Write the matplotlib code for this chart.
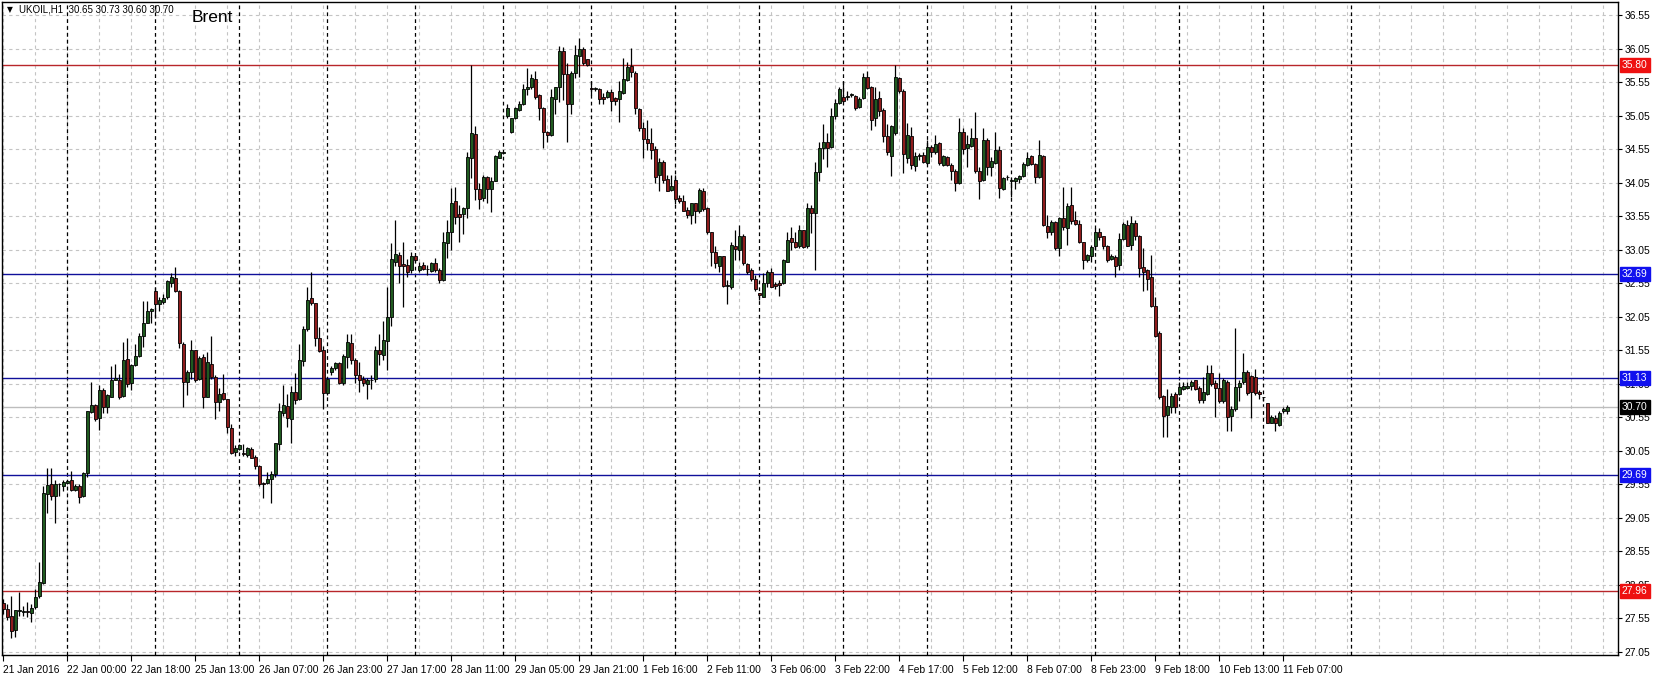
import matplotlib
matplotlib.use("Agg")
import matplotlib.pyplot as plt
from matplotlib.transforms import blended_transform_factory
import numpy as np

symbol = "UKOIL,H1"
title = "Brent"

opens = [
    27.78, 27.69, 27.58, 27.38, 27.66, 27.65, 27.66, 27.63, 27.72, 27.88,
    28.08, 29.41, 29.56, 29.37, 29.55, 29.53, 29.57, 29.62, 29.47, 29.53,
    29.37, 29.72, 30.63, 30.74, 30.54, 30.96, 30.70, 30.86, 31.11, 31.11,
    30.87, 31.42, 31.06, 31.33, 31.46, 31.76, 31.96, 32.14, 32.44, 32.24,
    32.27, 32.34, 32.55, 32.63, 32.44, 31.65, 31.07, 31.22, 31.55, 31.12,
    31.45, 30.86, 31.35, 31.15, 30.78, 30.91, 30.82, 30.39, 30.03, 30.08,
    30.02, 29.99, 30.08, 29.96, 29.83, 29.57, 29.57, 29.63, 29.71, 30.15,
    30.62, 30.72, 30.52, 30.92, 30.82, 31.39, 31.86, 32.33, 32.25, 31.73,
    31.56, 30.91, 31.23, 31.28, 31.36, 31.06, 31.45, 31.66, 31.41, 31.18,
    31.12, 31.05, 31.10, 31.12, 31.56, 31.48, 31.69, 32.05, 32.87, 32.97,
    32.84, 32.82, 32.75, 32.95, 32.74, 32.82, 32.76, 32.73, 32.85, 32.75,
    32.60, 33.15, 33.32, 33.78, 33.58, 33.58, 33.67, 34.42, 34.77, 33.96,
    33.82, 34.13, 33.96, 34.08, 34.42, 34.49, 35.05, 34.81, 35.02, 35.13,
    35.23, 35.44, 35.47, 35.60, 35.35, 35.16, 34.80, 34.76, 35.30, 35.47,
    36.01, 35.67, 35.23, 35.68, 35.94, 36.05, 35.89, 35.46, 35.45, 35.45,
    35.33, 35.33, 35.40, 35.31, 35.30, 35.38, 35.58, 35.79, 35.68, 35.15,
    34.86, 34.70, 34.64, 34.55, 34.16, 34.36, 34.10, 33.94, 34.09, 33.82,
    33.78, 33.64, 33.57, 33.74, 33.63, 33.93, 33.67, 33.31, 33.02, 32.80,
    32.95, 32.51, 32.49, 33.11, 33.05, 33.26, 32.84, 32.74, 32.61, 32.40,
    32.35, 32.55, 32.71, 32.54, 32.56, 32.55, 32.87, 33.22, 33.16, 33.10,
    33.35, 33.10, 33.67, 33.59, 34.21, 34.56, 34.65, 34.58, 35.05, 35.24,
    35.33, 35.33, 35.36, 35.34, 35.18, 35.31, 35.62, 35.47, 35.01, 35.31,
    35.13, 34.75, 34.45, 34.79, 35.61, 35.41, 34.41, 34.75, 34.30, 34.44,
    34.46, 34.35, 34.58, 34.50, 34.64, 34.31, 34.43, 34.31, 34.23, 34.04,
    34.81, 34.56, 34.59, 34.71, 34.22, 34.09, 34.69, 34.29, 34.35, 34.54,
    33.95, 34.13, 34.08, 34.07, 34.10, 34.15, 34.31, 34.44, 34.33, 34.13,
    34.45, 33.41, 33.31, 33.47, 33.07, 33.52, 33.37, 33.72, 33.50, 33.43,
    33.16, 32.90, 32.96, 33.10, 33.32, 33.25, 33.11, 32.91, 32.94, 32.82,
    33.21, 33.42, 33.12, 33.45, 33.26, 32.79, 32.74, 32.64, 32.21, 31.81,
    30.87, 30.59, 30.71, 30.90, 30.90, 30.97, 30.98, 31.02, 31.10, 30.98,
    30.81, 30.90, 31.21, 31.06, 30.98, 30.79, 31.08, 30.57, 30.67, 31.00,
    31.07, 31.23, 31.16, 31.15, 30.92, 30.85, 30.76, 30.47, 30.54, 30.44,
    30.64, 30.65,
]
highs = [
    27.84, 27.76, 27.89, 27.68, 27.94, 27.73, 27.79, 27.77, 27.99, 28.39,
    29.53, 29.80, 29.80, 29.61, 29.57, 29.61, 29.62, 29.75, 29.56, 29.56,
    29.73, 30.65, 31.07, 30.75, 31.03, 30.99, 30.90, 31.32, 31.35, 31.20,
    31.67, 31.74, 31.34, 31.64, 31.81, 32.28, 32.29, 32.18, 32.49, 32.34,
    32.39, 32.60, 32.70, 32.79, 32.45, 31.67, 31.25, 31.70, 31.56, 31.47,
    31.49, 31.52, 31.77, 31.18, 30.98, 31.20, 30.83, 30.45, 30.14, 30.15,
    30.15, 30.10, 30.10, 29.99, 29.84, 29.59, 29.74, 29.75, 30.17, 30.76,
    31.03, 30.90, 31.01, 31.21, 31.65, 31.91, 32.50, 32.72, 32.26, 31.90,
    31.61, 31.15, 31.32, 31.38, 31.37, 31.50, 31.79, 31.79, 31.43, 31.38,
    31.16, 31.13, 31.18, 31.61, 31.79, 31.98, 32.50, 33.15, 33.49, 33.02,
    33.17, 32.91, 33.02, 32.97, 32.86, 32.86, 32.82, 32.86, 32.92, 32.77,
    33.32, 33.49, 33.97, 33.99, 33.72, 33.69, 34.51, 35.81, 34.89, 34.04,
    34.16, 34.15, 34.14, 34.46, 34.54, 34.50, 35.22, 35.02, 35.18, 35.27,
    35.52, 35.76, 35.67, 35.71, 35.37, 35.18, 34.82, 35.45, 35.48, 36.09,
    36.08, 35.83, 35.71, 36.10, 36.20, 36.08, 35.90, 35.56, 35.48, 35.46,
    35.38, 35.43, 35.45, 35.33, 35.57, 35.91, 35.85, 36.06, 35.71, 35.16,
    34.95, 34.98, 34.86, 34.59, 34.41, 34.39, 34.16, 34.16, 34.16, 33.87,
    33.87, 33.69, 33.75, 33.75, 33.97, 33.97, 33.69, 33.32, 33.10, 32.96,
    32.96, 32.60, 33.16, 33.35, 33.42, 33.29, 32.85, 32.77, 32.67, 32.41,
    32.70, 32.74, 32.77, 32.57, 32.60, 32.91, 33.31, 33.39, 33.32, 33.42,
    33.35, 33.74, 33.72, 34.36, 34.66, 34.93, 34.79, 35.17, 35.29, 35.48,
    35.57, 35.41, 35.39, 35.36, 35.33, 35.69, 35.71, 35.49, 35.48, 35.41,
    35.16, 34.93, 34.91, 35.81, 35.63, 35.44, 34.94, 34.88, 34.51, 34.49,
    34.51, 34.69, 34.61, 34.76, 34.65, 34.46, 34.45, 34.34, 34.25, 35.01,
    34.86, 34.76, 34.86, 35.11, 34.29, 34.86, 34.71, 34.43, 34.80, 34.60,
    34.14, 34.17, 34.12, 34.13, 34.17, 34.36, 34.50, 34.46, 34.34, 34.68,
    34.46, 33.57, 33.49, 33.48, 33.54, 33.98, 33.74, 33.98, 33.62, 33.49,
    33.17, 32.98, 33.12, 33.38, 33.38, 33.26, 33.12, 32.99, 32.97, 33.30,
    33.47, 33.49, 33.55, 33.50, 33.27, 33.07, 32.76, 32.97, 32.35, 31.83,
    30.88, 30.97, 30.91, 30.93, 31.08, 31.08, 31.08, 31.11, 31.11, 31.01,
    31.15, 31.33, 31.33, 31.11, 31.21, 31.13, 31.11, 30.72, 31.88, 31.10,
    31.51, 31.26, 31.18, 31.27, 30.95, 30.86, 30.77, 30.59, 30.59, 30.64,
    30.70, 30.73,
]
lows = [
    27.62, 27.52, 27.26, 27.27, 27.59, 27.59, 27.57, 27.49, 27.69, 27.86,
    28.07, 29.12, 29.31, 28.97, 29.37, 29.45, 29.56, 29.45, 29.45, 29.27,
    29.36, 29.66, 30.62, 30.49, 30.36, 30.62, 30.61, 30.85, 31.10, 30.83,
    30.85, 31.00, 30.96, 31.32, 31.45, 31.60, 31.95, 31.96, 32.05, 32.13,
    32.24, 32.32, 32.49, 32.42, 31.59, 30.70, 30.89, 31.12, 31.07, 31.11,
    30.69, 30.85, 31.12, 30.53, 30.65, 30.81, 30.31, 30.01, 29.97, 30.06,
    29.97, 29.96, 29.94, 29.78, 29.53, 29.34, 29.56, 29.27, 29.66, 30.06,
    30.57, 30.41, 30.17, 30.75, 30.81, 31.32, 31.84, 32.23, 31.61, 31.53,
    30.68, 30.88, 31.18, 31.26, 31.05, 31.03, 31.28, 31.35, 31.06, 30.93,
    31.01, 30.82, 30.97, 31.08, 31.33, 31.41, 31.26, 31.91, 32.80, 32.56,
    32.20, 32.64, 32.70, 32.86, 32.72, 32.75, 32.67, 32.71, 32.72, 32.55,
    32.59, 32.93, 33.05, 33.43, 33.16, 33.28, 33.52, 34.12, 33.79, 33.66,
    33.77, 33.74, 33.61, 34.07, 34.41, 34.47, 35.02, 34.79, 35.00, 35.12,
    35.21, 35.36, 35.45, 35.30, 34.99, 34.56, 34.66, 34.75, 35.07, 35.26,
    35.28, 34.66, 35.08, 35.61, 35.63, 35.81, 35.79, 35.36, 35.42, 35.23,
    35.22, 35.31, 35.12, 35.21, 34.95, 35.37, 35.56, 35.62, 35.08, 34.82,
    34.41, 34.54, 34.40, 34.05, 33.92, 34.05, 33.92, 33.93, 33.73, 33.75,
    33.62, 33.52, 33.44, 33.45, 33.60, 33.62, 33.29, 32.80, 32.77, 32.71,
    32.49, 32.24, 32.46, 32.90, 32.89, 32.82, 32.69, 32.59, 32.44, 32.30,
    32.34, 32.50, 32.49, 32.46, 32.36, 32.54, 32.86, 33.05, 33.07, 33.07,
    33.07, 33.07, 33.30, 32.75, 34.08, 34.40, 34.29, 34.56, 35.00, 35.22,
    35.26, 35.28, 35.33, 35.14, 35.17, 35.29, 35.44, 34.84, 34.89, 35.04,
    34.65, 34.46, 34.15, 34.76, 35.38, 34.20, 34.34, 34.26, 34.22, 34.39,
    34.35, 34.33, 34.43, 34.48, 34.31, 34.30, 34.30, 34.09, 33.92, 34.03,
    34.48, 34.28, 34.58, 34.19, 33.80, 34.08, 34.17, 34.15, 34.33, 33.82,
    33.94, 34.09, 33.84, 33.95, 34.04, 34.14, 34.30, 34.31, 34.05, 34.12,
    33.41, 33.22, 33.27, 33.05, 32.95, 33.35, 33.12, 33.44, 33.42, 33.15,
    32.76, 32.86, 32.87, 33.04, 33.19, 33.06, 32.87, 32.90, 32.65, 32.75,
    33.19, 33.10, 33.05, 33.19, 32.64, 32.44, 32.45, 32.19, 31.75, 30.82,
    30.26, 30.26, 30.61, 30.62, 30.88, 30.95, 30.97, 30.95, 30.95, 30.77,
    30.77, 30.88, 31.01, 30.56, 30.77, 30.77, 30.35, 30.34, 30.65, 30.79,
    31.05, 30.88, 30.54, 30.88, 30.83, 30.79, 30.46, 30.46, 30.34, 30.42,
    30.62, 30.60,
]
closes = [
    27.69, 27.57, 27.37, 27.67, 27.67, 27.66, 27.65, 27.71, 27.87, 28.09,
    29.42, 29.54, 29.37, 29.56, 29.55, 29.59, 29.60, 29.46, 29.53, 29.36,
    29.72, 30.64, 30.73, 30.53, 30.96, 30.70, 30.88, 31.11, 31.13, 30.85,
    31.41, 31.05, 31.33, 31.47, 31.77, 31.95, 32.14, 32.17, 32.24, 32.30,
    32.33, 32.58, 32.65, 32.44, 31.66, 31.07, 31.22, 31.55, 31.11, 31.44,
    30.85, 31.37, 31.15, 30.78, 30.90, 30.82, 30.40, 30.02, 30.09, 30.14,
    30.01, 30.09, 29.95, 29.83, 29.56, 29.56, 29.63, 29.71, 30.16, 30.64,
    30.73, 30.54, 30.93, 30.81, 31.40, 31.86, 32.30, 32.26, 31.73, 31.54,
    30.91, 31.12, 31.28, 31.36, 31.06, 31.47, 31.68, 31.41, 31.18, 31.11,
    31.06, 31.11, 31.10, 31.55, 31.50, 31.70, 32.05, 32.91, 32.99, 32.81,
    32.81, 32.72, 32.96, 32.89, 32.81, 32.76, 32.76, 32.85, 32.75, 32.60,
    33.16, 33.31, 33.74, 33.54, 33.53, 33.67, 34.43, 34.79, 33.96, 33.81,
    34.13, 33.96, 34.08, 34.45, 34.51, 34.50, 35.16, 35.01, 35.16, 35.23,
    35.45, 35.48, 35.61, 35.32, 35.16, 34.80, 34.76, 35.32, 35.47, 36.01,
    35.67, 35.23, 35.68, 35.95, 36.05, 35.83, 35.81, 35.45, 35.46, 35.30,
    35.30, 35.40, 35.27, 35.27, 35.41, 35.60, 35.77, 35.70, 35.16, 34.86,
    34.70, 34.64, 34.54, 34.13, 34.36, 34.09, 33.93, 34.00, 33.80, 33.77,
    33.63, 33.57, 33.74, 33.63, 33.94, 33.65, 33.31, 33.01, 32.85, 32.95,
    32.51, 32.51, 33.12, 33.06, 33.26, 32.85, 32.72, 32.61, 32.46, 32.37,
    32.56, 32.71, 32.50, 32.51, 32.53, 32.89, 33.19, 33.16, 33.09, 33.35,
    33.09, 33.67, 33.60, 34.21, 34.56, 34.65, 34.56, 35.05, 35.24, 35.44,
    35.27, 35.33, 35.36, 35.17, 35.29, 35.62, 35.46, 34.99, 35.29, 35.12,
    34.74, 34.51, 34.89, 35.62, 35.41, 34.48, 34.76, 34.31, 34.45, 34.46,
    34.36, 34.58, 34.50, 34.63, 34.34, 34.44, 34.31, 34.23, 34.04, 34.80,
    34.55, 34.63, 34.71, 34.22, 34.08, 34.68, 34.28, 34.38, 34.54, 33.97,
    34.12, 34.13, 34.08, 34.12, 34.15, 34.33, 34.41, 34.33, 34.13, 34.46,
    33.42, 33.31, 33.47, 33.07, 33.52, 33.39, 33.70, 33.48, 33.44, 33.16,
    32.89, 32.97, 33.09, 33.32, 33.24, 33.11, 32.90, 32.96, 32.81, 33.21,
    33.43, 33.11, 33.45, 33.26, 32.77, 32.71, 32.62, 32.21, 31.76, 30.86,
    30.57, 30.72, 30.87, 30.71, 31.00, 31.02, 31.02, 31.08, 30.97, 30.81,
    30.93, 31.21, 31.05, 30.98, 30.79, 31.10, 30.56, 30.67, 31.00, 31.06,
    31.23, 30.91, 30.92, 30.91, 30.90, 30.85, 30.47, 30.55, 30.46, 30.62,
    30.67, 30.70,
]

x_labels = [
    "21 Jan 2016", "22 Jan 00:00", "22 Jan 18:00", "25 Jan 13:00", "26 Jan 07:00",
    "26 Jan 23:00", "27 Jan 17:00", "28 Jan 11:00", "29 Jan 05:00", "29 Jan 21:00",
    "1 Feb 16:00", "2 Feb 11:00", "3 Feb 06:00", "3 Feb 22:00", "4 Feb 17:00",
    "5 Feb 12:00", "8 Feb 07:00", "8 Feb 23:00", "9 Feb 18:00", "10 Feb 13:00",
    "11 Feb 07:00",
]
label_every = 16
grid_every = 8
day_starts = [16, 38, 59, 81, 103, 125, 147, 168, 189, 210, 231, 252, 273, 294, 315, 337]

levels = [35.80, 32.69, 31.13, 29.69, 27.96]
level_kind = ["red", "blue", "blue", "blue", "red"]
y_tick_values = [27.05, 27.55, 28.05, 28.55, 29.05, 29.55, 30.05, 30.55,
                 31.05, 31.55, 32.05, 32.55, 33.05, 33.55, 34.05, 34.55,
                 35.05, 35.55, 36.05, 36.55]

# ---------------------------------------------------------------- styling
W, H = 1658, 676
BULL = "#1f5a1f"
BEAR = "#8e1c1c"
LINE_COL = {"red": "#b8262a", "blue": "#10109a"}
TAG_COL = {"red": "#ee1111", "blue": "#1111ee"}
GRID = "#c4c4c4"
SMALL_FONT = ["Liberation Sans", "DejaVu Sans"]
FS = 7.4

fig = plt.figure(figsize=(W / 100, H / 100), dpi=100)
fig.patch.set_facecolor("white")
ax_l, ax_r, ax_t, ax_b = 2, 1618, 2, 655
ax = fig.add_axes([ax_l / W, (H - ax_b) / H, (ax_r - ax_l) / W, (ax_b - ax_t) / H])
ax.set_facecolor("white")

n = len(closes)
x = np.arange(n)
o = np.array(opens); h = np.array(highs); l = np.array(lows); c = np.array(closes)

# x: 4 px per bar, first bar at pixel 3.3
ax.set_xlim(-0.325, -0.325 + (ax_r - ax_l) / 4.0)
ax.set_ylim(27.005, 36.744)

# grid
for yv in y_tick_values:
    ax.axhline(yv, color=GRID, lw=0.8, ls=(0, (3, 3)), zorder=0)
for gx in np.arange(0, 420, grid_every):
    ax.axvline(gx, color=GRID, lw=0.8, ls=(0, (3, 3)), zorder=0)
for d in day_starts:
    ax.axvline(d, color="black", lw=0.9, ls=(0, (3, 2.5)), zorder=0.5)

# horizontal levels
for lv, kd in zip(levels, level_kind):
    ax.axhline(lv, color=LINE_COL[kd], lw=1.0, zorder=1)
ax.axhline(c[-1], color="#bdbdbd", lw=1.0, zorder=0.8)

# candles
ax.vlines(x, l, h, color="black", lw=0.9, zorder=2)
up = c >= o
body_bottom = np.minimum(o, c)
body_height = np.maximum(np.abs(c - o), 0.006)
ax.bar(x, body_height, bottom=body_bottom, width=0.72,
       color=np.where(up, BULL, BEAR), edgecolor="black", linewidth=0.6, zorder=3)

# axes styling
for s in ax.spines.values():
    s.set_color("black")
    s.set_linewidth(1.0)

ax.yaxis.tick_right()
ax.set_yticks(y_tick_values)
ax.set_yticklabels([f"{v:.2f}" for v in y_tick_values])
ax.tick_params(axis="y", which="major", length=3, width=0.8, pad=2,
               labelsize=FS, colors="black", direction="out")
for lab in ax.get_yticklabels():
    lab.set_family(SMALL_FONT)

tick_pos = [i * label_every for i in range(len(x_labels))]
ax.set_xticks(tick_pos)
ax.set_xticklabels(x_labels)
ax.tick_params(axis="x", which="major", length=4, width=0.8, pad=3,
               labelsize=FS, colors="black", direction="out")
for lab in ax.get_xticklabels():
    lab.set_horizontalalignment("left")
    lab.set_family(SMALL_FONT)

# price tags on right axis
trans = blended_transform_factory(ax.transAxes, ax.transData)
for lv, kd in zip(levels, level_kind):
    ax.text(1.0 + 4 / (ax_r - ax_l), lv, f"{lv:.2f}", transform=trans,
            ha="left", va="center", fontsize=FS, color="white", clip_on=False,
            zorder=10, family=SMALL_FONT,
            bbox=dict(boxstyle="square,pad=0.2", fc=TAG_COL[kd], ec=TAG_COL[kd]))
ax.text(1.0 + 4 / (ax_r - ax_l), c[-1], f"{c[-1]:.2f}", transform=trans,
        ha="left", va="center", fontsize=FS, color="white", clip_on=False,
        zorder=10, family=SMALL_FONT,
        bbox=dict(boxstyle="square,pad=0.2", fc="black", ec="black"))

# header texts
fig.text(7 / W, 1 - 10 / H, "\u25BC", fontsize=5.5, va="center", ha="left",
         family=["DejaVu Sans"])
fig.text(19 / W, 1 - 10 / H,
         f"{symbol}  {o[-1]:.2f} {h[-1]:.2f} {l[-1]:.2f} {c[-1]:.2f}",
         fontsize=7.0, va="center", ha="left", family=SMALL_FONT)
fig.text(192 / W, 1 - 18 / H, title, fontsize=12.5, va="center", ha="left",
         family=["Liberation Sans", "DejaVu Sans"])

fig.savefig("out.png", dpi=100)
